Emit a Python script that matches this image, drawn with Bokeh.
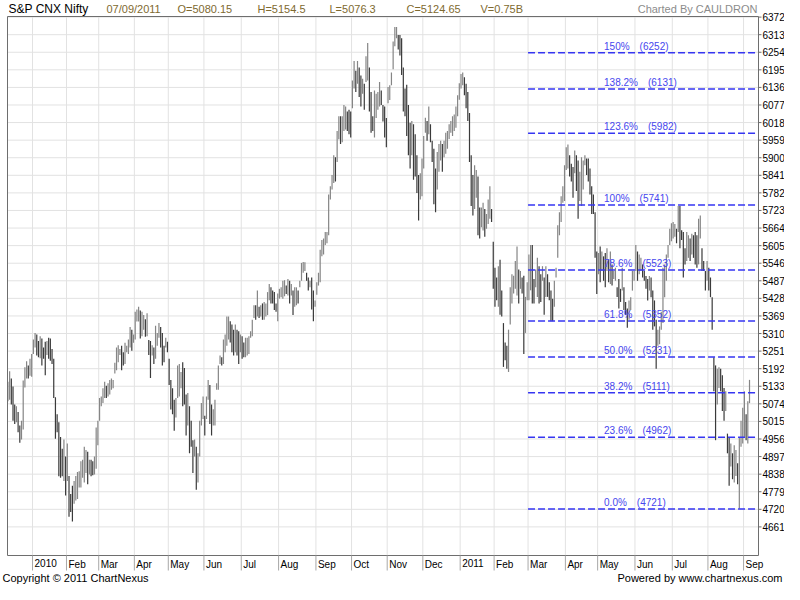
from bokeh.plotting import figure
from bokeh.models import Range1d, ColumnDataSource
from bokeh.core.properties import value
from bokeh.embed import file_html
from bokeh.resources import INLINE

# ---------------- data ----------------
month_labels = ["2010", "Feb", "Mar", "Apr", "May", "Jun", "Jul", "Aug", "Sep", "Oct", "Nov", "Dec",
                "2011", "Feb", "Mar", "Apr", "May", "Jun", "Jul", "Aug", "Sep"]
# trading days per month, first entry = Dec 2009 (unlabelled)
month_days = [15, 20, 19, 21, 20, 21, 22, 22, 22, 21, 21, 21, 22, 20, 20, 22, 19, 22, 22, 21, 21, 4]

high = [
    5148, 5183, 5159, 5132, 5072, 5066, 5047, 5001, 5017, 5152, 5197, 5217, 5203, 5225, 5241,
    5290, 5312, 5307, 5285, 5301, 5293, 5263, 5282, 5285, 5296, 5293, 5258, 5225, 5096, 5039, 5012, 4963, 4923, 4954, 4897,
    4941, 4832, 4771, 4799, 4815, 4832, 4845, 4848, 4881, 4886, 4930, 4919, 4913, 4886, 4886, 4881, 4897, 4995, 5017,
    5094, 5099, 5126, 5148, 5135, 5143, 5154, 5159, 5154, 5212, 5263, 5271, 5258, 5269, 5247, 5279, 5269, 5290, 5332, 5323, 5307,
    5383, 5391, 5400, 5387, 5383, 5372, 5358, 5378, 5288, 5285, 5271, 5263, 5336, 5312, 5345, 5332, 5312, 5269, 5296, 5282,
    5225, 5154, 5126, 5088, 5094, 5203, 5208, 5181, 5214, 5194, 5105, 5110, 5066, 5017, 4952, 4954, 4930, 4908, 5017, 5077, 5099,
    5034, 5099, 5154, 5137, 5072, 5056, 5088, 5143, 5203, 5236, 5230, 5290, 5307, 5367, 5367, 5351, 5340, 5323, 5340, 5323, 5318, 5307,
    5301, 5280, 5296, 5296, 5301, 5318, 5356, 5405, 5405, 5454, 5400, 5405, 5411, 5416, 5411, 5449, 5476, 5465, 5454, 5449, 5411, 5444,
    5460, 5465, 5487, 5489, 5471, 5493, 5487, 5476, 5454, 5465, 5465, 5454, 5487, 5547, 5550, 5549, 5514, 5498, 5487, 5498, 5454, 5421,
    5482, 5514, 5591, 5624, 5629, 5651, 5651, 5777, 5804, 5842, 5908, 5902, 5990, 6039, 6039, 6039, 6077, 6072, 6055, 6061, 6055,
    6159, 6225, 6192, 6225, 6203, 6176, 6165, 6148, 6241, 6285, 6203, 6121, 6039, 6126, 6115, 6121, 6154, 6126, 6077, 6072, 6033,
    6137, 6143, 6186, 6290, 6339, 6339, 6312, 6312, 6301, 6203, 6132, 6145, 6077, 6017, 6023, 6012, 5979, 5908, 5842, 5848, 5897,
    5973, 6034, 6023, 6072, 6012, 5957, 5930, 5864, 5919, 5946, 5957, 5946, 5957, 5984, 5990, 6012, 6023, 6039, 6045, 6072, 6110, 6150,
    6181, 6186, 6170, 6148, 6121, 6050, 5908, 5842, 5875, 5859, 5837, 5733, 5733, 5749, 5728, 5711, 5760, 5804, 5728, 5618,
    5531, 5498, 5536, 5558, 5454, 5345, 5280, 5269, 5323, 5465, 5509, 5504, 5553, 5602, 5525, 5520, 5498, 5504, 5433, 5482,
    5575, 5607, 5607, 5493, 5525, 5564, 5536, 5509, 5536, 5498, 5536, 5509, 5482, 5454, 5427, 5487, 5531, 5673, 5717, 5771, 5804, 5875,
    5935, 5944, 5908, 5880, 5869, 5924, 5908, 5891, 5853, 5902, 5891, 5908, 5897, 5897, 5864, 5804, 5777, 5717, 5585,
    5580, 5602, 5585, 5569, 5580, 5596, 5558, 5585, 5542, 5520, 5531, 5465, 5493, 5460, 5531, 5465, 5416, 5394, 5421, 5432, 5520, 5520,
    5607, 5585, 5575, 5564, 5542, 5520, 5503, 5493, 5503, 5498, 5454, 5421, 5356, 5323, 5334, 5383, 5531, 5542, 5575, 5607, 5662, 5680,
    5684, 5678, 5662, 5738, 5738, 5657, 5651, 5596, 5651, 5640, 5629, 5645, 5640, 5651, 5640, 5695, 5706, 5596, 5553, 5520, 5553,
    5531, 5498, 5432, 5230, 5203, 5192, 5197, 5192, 5170, 5127, 5116, 4974, 4963, 4941, 4908, 4935, 4919, 4875, 4963, 5017, 5061,
    5116, 5039, 5083, 5154.5,
]
low = [
    5083, 5088, 5072, 5017, 5006, 5012, 4979, 4943, 4954, 4988, 5129, 5159, 5159, 5168, 5165,
    5241, 5263, 5236, 5230, 5227, 5203, 5225, 5170, 5238, 5225, 5219, 5208, 5094, 4957, 4979, 4831, 4826, 4831, 4815, 4766,
    4815, 4695, 4711, 4679, 4739, 4750, 4755, 4793, 4793, 4826, 4810, 4842, 4804, 4837, 4831, 4834, 4837, 4856, 4935,
    5017, 5066, 5077, 5094, 5094, 5099, 5105, 5121, 5126, 5176, 5187, 5214, 5238, 5187, 5203, 5208, 5247, 5241, 5263, 5252, 5279,
    5290, 5350, 5350, 5293, 5301, 5323, 5299, 5301, 5238, 5161, 5236, 5208, 5225, 5269, 5296, 5263, 5203, 5214, 5263, 5247,
    5137, 5055, 5039, 4984, 5028, 5094, 5099, 5126, 5066, 5072, 4968, 5001, 4908, 4930, 4842, 4897, 4786, 4810, 4897, 5001, 5023,
    4968, 5023, 5088, 5006, 4968, 5001, 5001, 5121, 5121, 5208, 5203, 5208, 5247, 5269, 5290, 5280, 5247, 5236, 5247, 5236, 5208, 5247,
    5225, 5230, 5230, 5236, 5241, 5296, 5301, 5362, 5356, 5367, 5362, 5367, 5356, 5356, 5367, 5372, 5422, 5411, 5411, 5389, 5383, 5351,
    5427, 5432, 5427, 5435, 5443, 5438, 5411, 5438, 5372, 5400, 5405, 5411, 5465, 5487, 5514, 5520, 5487, 5454, 5465, 5391, 5351, 5400,
    5440, 5471, 5482, 5569, 5575, 5607, 5613, 5640, 5760, 5793, 5815, 5820, 5886, 5962, 5946, 5952, 5990, 5995, 5990, 5979, 5968,
    6066, 6132, 6121, 6148, 6104, 6072, 6115, 6061, 6154, 6159, 6055, 5984, 5990, 5968, 6033, 6061, 6072, 6077, 6022, 5968, 5935,
    6083, 6094, 6143, 6197, 6274, 6301, 6263, 6243, 6178, 6055, 6039, 5973, 5908, 5864, 5908, 5826, 5837, 5782, 5689, 5760, 5771,
    5864, 5984, 5957, 5979, 5952, 5886, 5744, 5717, 5793, 5853, 5891, 5853, 5902, 5913, 5930, 5963, 5984, 5973, 5990, 6001, 6039, 6095,
    6132, 6143, 6110, 6066, 6023, 5886, 5738, 5706, 5728, 5766, 5640, 5629, 5667, 5656, 5635, 5662, 5678, 5695, 5684, 5460,
    5400, 5422, 5400, 5373, 5367, 5198, 5220, 5192, 5181, 5340, 5411, 5444, 5460, 5438, 5411, 5460, 5444, 5241, 5312, 5422,
    5422, 5455, 5411, 5411, 5465, 5433, 5411, 5416, 5487, 5373, 5433, 5433, 5422, 5351, 5351, 5400, 5498, 5564, 5640, 5684, 5749, 5755,
    5859, 5864, 5837, 5820, 5766, 5848, 5788, 5695, 5755, 5738, 5793, 5875, 5842, 5820, 5777, 5711, 5711, 5564, 5443,
    5509, 5482, 5520, 5487, 5465, 5520, 5482, 5476, 5471, 5493, 5487, 5433, 5394, 5416, 5454, 5389, 5372, 5329, 5356, 5389, 5454, 5487,
    5520, 5487, 5509, 5520, 5498, 5487, 5460, 5421, 5454, 5432, 5323, 5334, 5192, 5269, 5274, 5323, 5345, 5432, 5487, 5564, 5607, 5620,
    5629, 5635, 5613, 5651, 5596, 5624, 5498, 5542, 5553, 5564, 5553, 5575, 5564, 5542, 5531, 5542, 5629, 5520, 5520, 5454, 5487,
    5454, 5432, 5323, 5116, 4952, 5072, 5127, 5116, 5050, 5017, 5050, 4908, 4799, 4864, 4821, 4810, 4832, 4804, 4722, 4930, 4941,
    4963, 4952, 4941, 5076.3,
]

y_ticks = [4661, 4720, 4779, 4838, 4897, 4956, 5015, 5074, 5133, 5192, 5251, 5310, 5369, 5428, 5487,
           5546, 5605, 5664, 5723, 5782, 5841, 5900, 5959, 6018, 6077, 6136, 6195, 6254, 6313, 6372]

fib_pct = ["0.0%", "23.6%", "38.2%", "50.0%", "61.8%", "78.6%", "100%", "123.6%", "138.2%", "150%"]
fib_vals = [4721, 4962, 5111, 5231, 5352, 5523, 5741, 5982, 6131, 6252]
fib_start_month = 15  # Mar 2011 (index into month_days)

title_text = "S&P CNX Nifty"
header_items = ["07/09/2011", "O=5080.15", "H=5154.5", "L=5076.3", "C=5124.65", "V=0.75B"]
credit_text = "Charted By CAULDRON"
footer_left = "Copyright \u00a9 2011 ChartNexus"
footer_right = "Powered by www.chartnexus.com"

# ---------------- layout (pixels) ----------------
W, H = 784, 584
PL, PR, PT, PB = 7, 758, 16, 555          # price area inside the canvas
X0, X1 = -0.25, 442.3                     # index range of the price area
Y0, Y1 = 4565, 6374                       # price range of the price area
FONT = value("Liberation Sans")
FRAME = "#6e6e6e"
GRID = "#e2e2e2"

kx = (PR - PL) / (X1 - X0)
ky = (PB - PT) / (Y1 - Y0)
XS = X0 - PL / kx
XE = X1 + (W - PR) / kx
YS = Y0 - (H - PB) / ky
YE = Y1 + PT / ky


def dx(px):
    return XS + px / kx


def dy(py):
    return YE - py / ky


CW = {"0": 556, "1": 556, "2": 556, "3": 556, "4": 556, "5": 556, "6": 556, "7": 556, "8": 556, "9": 556,
      ".": 278, "%": 889}


def text_w(s, size):
    return sum(CW.get(ch, 556) for ch in s) * size / 1000.0


n = len(high)
idx = list(range(n))
starts = []
acc = 0
for d in month_days:
    starts.append(acc)
    acc += d
sep = [st - 0.5 for st in starts[1:]]

colors = []
prev = None
for h, l in zip(high, low):
    m = (h + l) / 2.0
    colors.append("#858585" if (prev is None or m >= prev) else "#3a3a3a")
    prev = m

p = figure(width=W, height=H, x_range=Range1d(XS, XE), y_range=Range1d(YS, YE),
           output_backend="svg", toolbar_location=None,
           x_axis_location=None, y_axis_location=None,
           min_border_left=0, min_border_right=0, min_border_top=0, min_border_bottom=0)
p.xgrid.grid_line_color = None
p.ygrid.grid_line_color = None
p.outline_line_color = None
p.background_fill_color = "white"
p.border_fill_color = "white"

# grid
p.segment(x0=[X0] * len(y_ticks), y0=y_ticks, x1=[X1] * len(y_ticks), y1=y_ticks,
          line_color=GRID, line_width=1)
p.segment(x0=sep, y0=[Y0] * len(sep), x1=sep, y1=[Y1] * len(sep), line_color=GRID, line_width=1)

# OHLC bars (high-low)
src = ColumnDataSource(dict(x=idx, hi=high, lo=low, c=colors))
p.segment(x0="x", y0="lo", x1="x", y1="hi", line_color="c", line_width=1.2, source=src)

# Fibonacci retracement lines
fib_x0 = starts[fib_start_month] - 0.5
fib_x1 = X1 - 1.8
p.segment(x0=[fib_x0] * len(fib_vals), y0=fib_vals, x1=[fib_x1] * len(fib_vals), y1=fib_vals,
          line_color="#3636f2", line_width=1.5, line_dash="7 3")
fib_src = ColumnDataSource(dict(
    x=[fib_x0] * len(fib_vals), y=fib_vals, pct=fib_pct,
    val=["(%d)" % v for v in fib_vals],
    voff=[76 + text_w(t, 10) + 10 for t in fib_pct]))
p.text(x="x", y="y", text="pct", source=fib_src, x_offset=76, y_offset=-1,
       text_align="left", text_baseline="bottom", text_font=FONT,
       text_font_size="10px", text_color="#4646ee")
p.text(x="x", y="y", text="val", source=fib_src, x_offset="voff", y_offset=-1,
       text_align="left", text_baseline="bottom", text_font=FONT,
       text_font_size="10px", text_color="#4646ee")

# frame of the price area
p.segment(x0=[X0, X0, X1, X0], y0=[Y0, Y0, Y0, Y1], x1=[X0, X1, X1, X1], y1=[Y1, Y0, Y1, Y1],
          line_color=FRAME, line_width=1)

# right price axis: ticks + labels
p.segment(x0=[X1] * len(y_ticks), y0=y_ticks, x1=[X1 + 3 / kx] * len(y_ticks), y1=y_ticks,
          line_color=FRAME, line_width=1)
p.text(x=[X1] * len(y_ticks), y=y_ticks, text=[str(t) for t in y_ticks], x_offset=4,
       text_align="left", text_baseline="middle", text_font=FONT, text_font_size="10px",
       text_color="#000000")

# bottom month axis: separators + labels
p.segment(x0=sep, y0=[Y0] * len(sep), x1=sep, y1=[dy(PB + 15)] * len(sep),
          line_color="#a8a8a8", line_width=1)
p.text(x=sep, y=[Y0] * len(sep), text=month_labels, x_offset=2, y_offset=3,
       text_align="left", text_baseline="top", text_font=FONT, text_font_size="10px",
       text_color="#000000")

# header
hy = dy(8)
p.text(x=[dx(8)], y=[hy], text=[title_text], text_align="left", text_baseline="middle",
       text_font=FONT, text_font_size="12px", text_color="#000000")
header_px = [106, 177, 257, 329, 406, 480]
p.text(x=[dx(v) for v in header_px], y=[hy] * len(header_items), text=header_items,
       text_align="left", text_baseline="middle", text_font=FONT, text_font_size="11px",
       text_color="#806a30")
p.text(x=[dx(757)], y=[hy], text=[credit_text], text_align="right", text_baseline="middle",
       text_font=FONT, text_font_size="11px", text_color="#8c8c8c")

# footer
fy = dy(577)
p.text(x=[dx(2)], y=[fy], text=[footer_left], text_align="left", text_baseline="middle",
       text_font=FONT, text_font_size="11px", text_color="#000000")
p.text(x=[dx(782)], y=[fy], text=[footer_right], text_align="right", text_baseline="middle",
       text_font=FONT, text_font_size="11px", text_color="#000000")

open("out.html", "w").write(file_html(p, INLINE))
